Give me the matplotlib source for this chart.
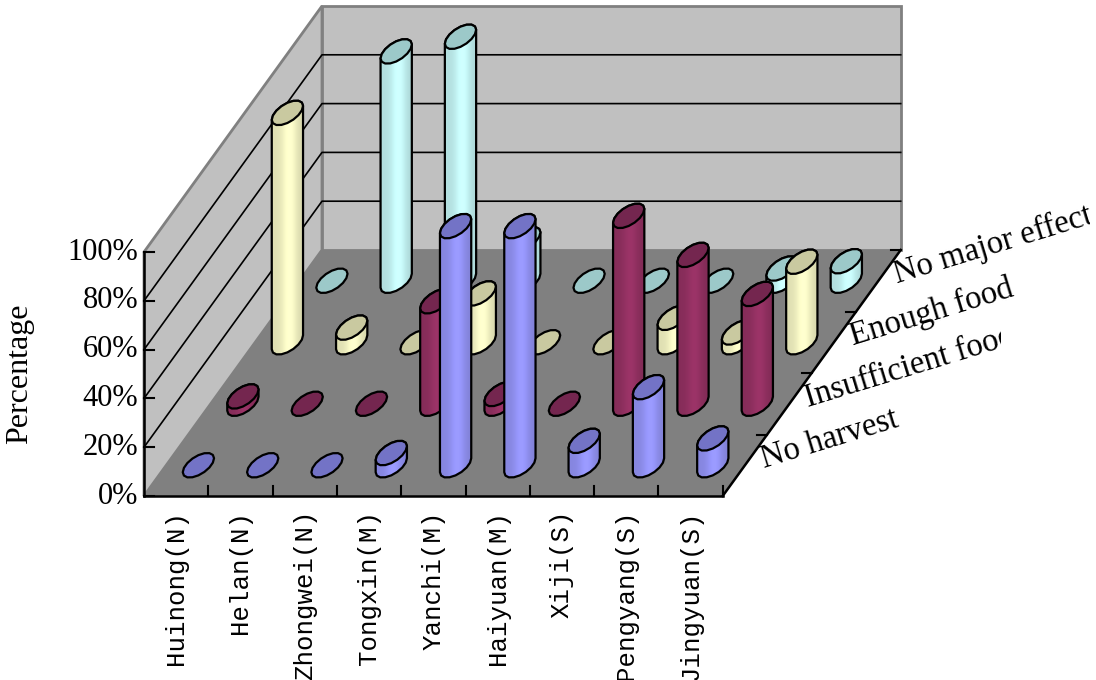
import numpy as np
import matplotlib
matplotlib.use("Agg")
import matplotlib.pyplot as plt
from matplotlib.patches import Polygon
from matplotlib.transforms import Bbox, TransformedBbox

villages = ["Huinong(N)", "Helan(N)", "Zhongwei(N)", "Tongxin(M)", "Yanchi(M)",
            "Haiyuan(M)", "Xiji(S)", "Pengyang(S)", "Jingyuan(S)"]
series_names = ["No harvest", "Insufficient food", "Enough food", "No major effect"]
no_harvest = [0, 0, 0, 5, 98, 98, 10, 32, 11]
insufficient_food = [3, 0, 0, 42, 4, 0, 77, 61, 45]
enough_food = [94, 6, 0, 20, 0, 0, 10, 4, 33]
no_major_effect = [0, 94, 100, 17, 0, 0, 0, 5, 8]
y_ticks = [0, 20, 40, 60, 80, 100]

series_values = [no_harvest, insufficient_food, enough_food, no_major_effect]
# (side colour, top colour)
series_colors = [("#9999ff", "#7373c6"),
                 ("#993366", "#74264f"),
                 ("#ffffcc", "#c9c9a0"),
                 ("#ccffff", "#9cc9c9")]

# oblique box layout, in output pixels (y grows downward)
X0, Y0 = 144.0, 496.0
CAT_W = 64.3
DEPTH_DX, DEPTH_DY = 178.0 / 4, 246.0 / 4
PCT_H = 2.44
RADIUS = 0.2
N_CAT = len(villages)
N_DEPTH = len(series_names)

SERIF = ["Liberation Serif", "DejaVu Serif"]
MONO = ["Liberation Mono", "DejaVu Sans Mono"]


def proj(c, d, v):
    return X0 + c * CAT_W + d * DEPTH_DX, Y0 - v * PCT_H - d * DEPTH_DY


def ring(c, d, v, ts):
    pts = [proj(c + RADIUS * np.cos(t), d + RADIUS * np.sin(t), v) for t in ts]
    return np.array(pts)


def shade(hex_color, n=40):
    rgb = np.array(matplotlib.colors.to_rgb(hex_color))
    s = np.linspace(0, 1, n)
    f = 0.88 + 0.16 * np.exp(-((s - 0.55) / 0.25) ** 2) - 0.04 * s
    img = np.clip(rgb[None, :] * f[:, None], 0, 1)
    return img[None, :, :]


def cylinder(ax, c, d, v, side, top, z):
    t0 = np.arctan2(DEPTH_DX, CAT_W)
    if v > 0.5:
        front = ring(c, d, 0, t0 + np.pi + np.linspace(0, np.pi, 9))
        back = ring(c, d, v, t0 + np.linspace(0, np.pi, 9))
        body_pts = np.vstack([front, back])
        body = Polygon(body_pts, closed=True, facecolor="none", edgecolor="black",
                       lw=1.6, joinstyle="round", zorder=z + 0.1)
        ax.add_patch(body)
        xl, xr = body_pts[:, 0].min(), body_pts[:, 0].max()
        yt, yb = body_pts[:, 1].min(), body_pts[:, 1].max()
        im = ax.imshow(shade(side), extent=(xl, xr, yb, yt), aspect="auto",
                       interpolation="bilinear", zorder=z)
        im.set_clip_path(body)
    cap = ring(c, d, v, t0 + np.linspace(0, 2 * np.pi, 17))
    ax.add_patch(Polygon(cap, closed=True, facecolor=top, edgecolor="black",
                         lw=1.6, joinstyle="round", zorder=z + 0.2))


fig = plt.figure(figsize=(10.96, 6.8), dpi=100)
ax = fig.add_axes([0, 0, 1, 1])
ax.set_xlim(0, 1096)
ax.set_ylim(680, 0)

# walls and floor
left_wall = [proj(0, 0, 0), proj(0, 0, 100), proj(0, N_DEPTH, 100), proj(0, N_DEPTH, 0)]
back_wall = [proj(0, N_DEPTH, 0), proj(0, N_DEPTH, 100), proj(N_CAT, N_DEPTH, 100), proj(N_CAT, N_DEPTH, 0)]
floor = [proj(0, 0, 0), proj(N_CAT, 0, 0), proj(N_CAT, N_DEPTH, 0), proj(0, N_DEPTH, 0)]
ax.add_patch(Polygon(left_wall, facecolor="#c0c0c0", edgecolor="#808080", lw=2, zorder=1))
ax.add_patch(Polygon(back_wall, facecolor="#c0c0c0", edgecolor="#808080", lw=2, zorder=1))
ax.add_patch(Polygon(floor, facecolor="#808080", edgecolor="none", zorder=1.5))

# gridlines on walls
for v in y_ticks[1:-1]:
    pts = np.array([proj(0, 0, v), proj(0, N_DEPTH, v), proj(N_CAT, N_DEPTH, v)])
    ax.plot(pts[:, 0], pts[:, 1], color="black", lw=1.2, zorder=2)

# axes lines
for a, b in [((0, 0, 0), (0, 0, 100)), ((0, 0, 0), (N_CAT, 0, 0)), ((N_CAT, 0, 0), (N_CAT, N_DEPTH, 0))]:
    pa, pb = proj(*a), proj(*b)
    ax.plot([pa[0], pb[0]], [pa[1], pb[1]], color="black", lw=1.8, zorder=3,
            solid_capstyle="projecting")

# ticks
for v in y_ticks:
    x, y = proj(0, 0, v)
    ax.plot([x, x + 10], [y, y], color="black", lw=1.5, zorder=3)
    ax.text(x - 6, y, "%d%%" % v, ha="right", va="center", fontsize=22, family=SERIF)
for i in range(1, N_CAT + 1):
    x, y = proj(i, 0, 0)
    ax.plot([x, x], [y, y - 10], color="black", lw=1.5, zorder=3)
for k in range(1, N_DEPTH + 1):
    x, y = proj(N_CAT, k, 0)
    ax.plot([x, x - 10], [y, y], color="black", lw=1.5, zorder=3)

# cylinders, back row first
for j in range(N_DEPTH - 1, -1, -1):
    side, top = series_colors[j]
    for i, v in enumerate(series_values[j]):
        cylinder(ax, i + 0.5, j + 0.5, v, side, top, 10 + (N_DEPTH - j) * 3)

# category labels
for i, name in enumerate(villages):
    x, y = proj(i + 0.5, 0, 0)
    ax.text(x, y + 14, name, rotation=90, ha="center", va="top", fontsize=18.5, family=MONO)

# series labels along depth axis (clipped like the original)
for j, name in enumerate(series_names):
    x, y = proj(N_CAT, j + 0.5, 0)
    t = ax.text(x + 19, y + 3, name, rotation=17, rotation_mode="anchor",
                ha="left", va="baseline", fontsize=23.5, family=SERIF)
    t.set_clip_box(TransformedBbox(Bbox([[x + 14, 0], [x + 212, 680]]), ax.transData))
    t.set_clip_on(True)

ax.text(20, 374, "Percentage", rotation=90, ha="center", va="center", fontsize=23, family=SERIF)

ax.axis("off")
fig.savefig("out.png", dpi=100, facecolor="white")
